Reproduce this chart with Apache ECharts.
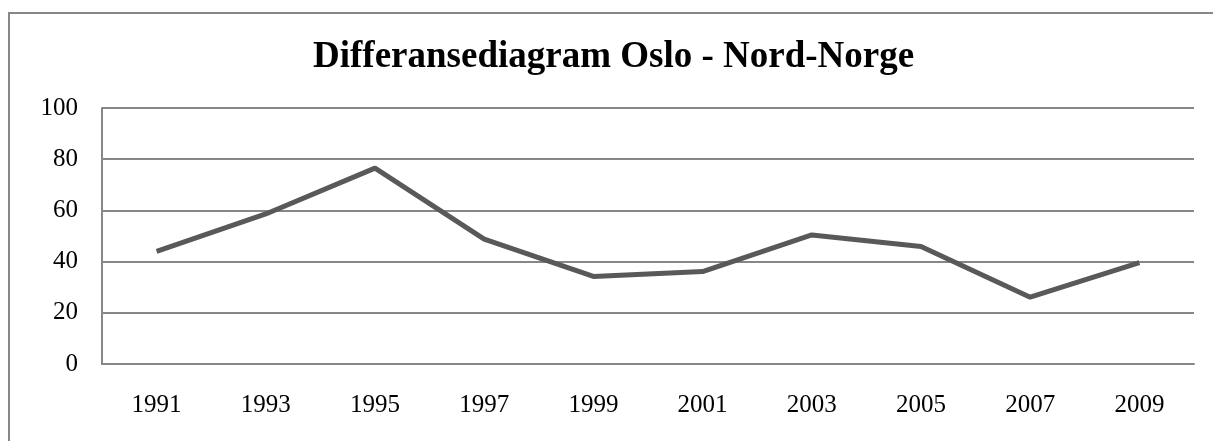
<html>
<head>
<meta charset="utf-8">
<style>
  *{box-sizing: border-box;}
  body,html{margin:0;padding:0;width:100%;height:100%;background:#fff;}
  #chart{width:1213px;height:441px;}
</style>
<script src="https://cdn.jsdelivr.net/npm/echarts@6/dist/echarts.min.js"></script>
</head>
<body>
<div id="chart"></div>
<script>
  // data
  var years = ["1991","1993","1995","1997","1999","2001","2003","2005","2007","2009"];
  var diff = [44, 58.6, 76.5, 48.8, 34.2, 36.1, 50.4, 45.9, 26.1, 39.6];
  var yTicks = [0, 20, 40, 60, 80, 100];

  var serif = "'Liberation Serif', 'Times New Roman', serif";
  var chart = echarts.init(document.getElementById('chart'));

  chart.setOption({
    animation: false,
    title: {
      text: "Differansediagram Oslo - Nord-Norge",
      left: 313,
      top: 39,
      padding: 0,
      textStyle: {fontFamily: serif, fontWeight: 'bold', fontSize: 37, color: '#000'}
    },
    graphic: [{
      // outer chart frame
      type: 'rect',
      shape: {x: 9, y: 13, width: 1220, height: 450},
      style: {fill: 'none', stroke: '#878787', lineWidth: 2},
      silent: true
    }],
    grid: {left: 102, right: 19, top: 108, bottom: 77},
    xAxis: {
      type: 'category',
      data: years,
      boundaryGap: true,
      axisLine: {lineStyle: {color: '#878787', width: 2}},
      axisTick: {show: false},
      axisLabel: {fontFamily: serif, fontSize: 25, color: '#000', margin: 29}
    },
    yAxis: {
      type: 'value',
      min: yTicks[0],
      max: yTicks[yTicks.length - 1],
      interval: 20,
      axisLine: {show: true, lineStyle: {color: '#878787', width: 2}},
      axisTick: {show: false},
      splitLine: {lineStyle: {color: '#878787', width: 2}},
      axisLabel: {fontFamily: serif, fontSize: 25, color: '#000', margin: 24}
    },
    series: [{
      type: 'line',
      data: diff,
      showSymbol: false,
      lineStyle: {color: '#595959', width: 5}
    }]
  });
</script>
</body>
</html>
